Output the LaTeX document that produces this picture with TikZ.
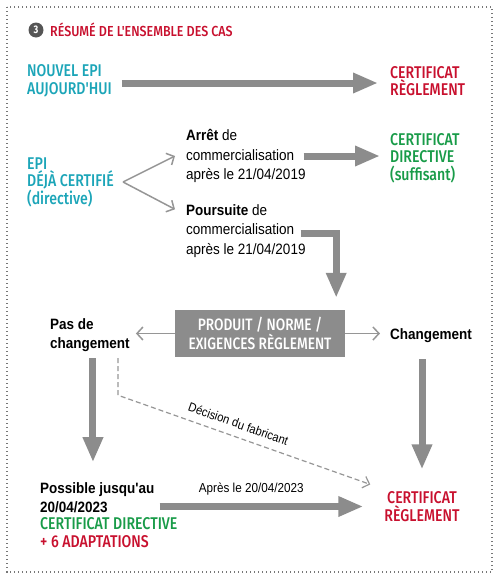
\documentclass[tikz,border=0pt]{standalone}
\usepackage{fontspec}
\setmainfont{Liberation Sans}
\newfontfamily\capsfont[FakeStretch=0.83, UprightFont={* Medium}, BoldFont={* Bold}]{Fira Sans}
\newfontfamily\titlefont[FakeStretch=0.86, UprightFont={* Medium}]{Fira Sans}
\newfontfamily\blackfont[FakeStretch=0.9]{Liberation Sans}
\usetikzlibrary{arrows.meta}

\definecolor{tealtxt}{RGB}{28,165,184}
\definecolor{redtxt}{RGB}{200,16,46}
\definecolor{greentxt}{RGB}{24,155,72}
\definecolor{arrowgray}{RGB}{140,140,140}
\definecolor{thingray}{RGB}{150,150,150}
\definecolor{numgray}{RGB}{85,85,85}

\tikzset{
  caps/.style={font=\capsfont\fontsize{17}{17.5}\selectfont, align=left, inner sep=0pt},
  tealtext/.style={caps, text=tealtxt},
  redtext/.style={caps, text=redtxt},
  greentext/.style={caps, text=greentxt},
  blk/.style={font=\blackfont\fontsize{15}{19.5}\selectfont, align=left, inner sep=0pt},
  bigarrow/.style={draw=arrowgray, line width=7pt, -{Triangle[length=25pt,width=19pt]}},
  thinarrow/.style={draw=thingray, line width=1.5pt, -{Straight Barb[length=6pt,width=13pt]}},
  dashline/.style={draw=thingray, line width=1.2pt, dash pattern=on 5pt off 3pt, -{Straight Barb[length=6pt,width=12pt]}}
}

\begin{document}
\begin{tikzpicture}[x=1pt, y=-1pt]
  \useasboundingbox (0,0) rectangle (500,584);
  \draw[numgray!80, line width=1.2pt, dash pattern=on 1.2pt off 2.8pt] (7,7) rectangle (492,572);

  % titre
  \node[circle, fill=numgray, text=white, inner sep=0pt, minimum size=15pt,
        font=\capsfont\bfseries\fontsize{11}{11}\selectfont] (num) at (36,30) {3};
  \node[text=redtxt, inner sep=0pt, font=\titlefont\fontsize{14.5}{15}\selectfont, anchor=west] (title) at (50,30) {RÉSUMÉ DE L'ENSEMBLE DES CAS};

  % nouvel EPI
  \node[tealtext, anchor=west] (nouvel) at (27,81) {NOUVEL EPI\\AUJOURD'HUI};
  \node[redtext, anchor=west] (certA) at (390,81) {CERTIFICAT\\RÈGLEMENT};
  \draw[bigarrow] ([xshift=10pt,yshift=-2pt]nouvel.east) -- ([xshift=-12pt,yshift=-2pt]certA.west);

  % EPI deja certifie
  \node[tealtext, anchor=west] (epi) at (27,182) {EPI\\DÉJÀ CERTIFIÉ\\(directive)};
  \node[blk, anchor=west] (arret) at (186,156) {\textbf{Arrêt} de\\commercialisation\\après le 21/04/2019};
  \node[greentext, anchor=west] (certB) at (390,158) {CERTIFICAT\\DIRECTIVE\\(suffisant)};
  \node[blk, anchor=west] (pours) at (186,231) {\textbf{Poursuite} de\\commercialisation\\après le 21/04/2019};
  \coordinate (fork) at ([xshift=9pt]epi.east);
  \draw[thinarrow] (fork) -- ([xshift=-11pt]arret.west);
  \draw[thinarrow] (fork) -- ([xshift=-11pt,yshift=-5pt]pours.north west);
  \draw[bigarrow] ([xshift=-2pt]arret.east) -- ([xshift=-10pt]arret.east -| certB.west);

  % produit / norme
  \node[fill=arrowgray, text=white, minimum width=170pt, minimum height=47pt, inner sep=0pt, align=center,
        font=\capsfont\fontsize{16.5}{17}\selectfont] (box) at (260,333.5) {PRODUIT / NORME /\\EXIGENCES RÈGLEMENT};
  \draw[bigarrow] ([xshift=-5pt,yshift=-2pt]pours.east) -| ([xshift=-9pt,yshift=12pt]box.north east);
  \node[blk, font=\blackfont\bfseries\fontsize{15}{19}\selectfont, anchor=west] (pas) at (50,335.5) {Pas de\\changement};
  \node[blk, font=\blackfont\bfseries\fontsize{15}{19}\selectfont, anchor=west] (chg) at (390,336) {Changement};
  \draw[thinarrow] (box.west) -- ([xshift=6pt]box.west -| pas.east);
  \draw[thinarrow] (box.east) -- ([xshift=-10pt]box.east -| chg.west);

  % bas
  \node[blk, font=\blackfont\bfseries\fontsize{15}{19}\selectfont, anchor=west] (possA) at (40,497.5) {Possible jusqu'au\\20/04/2023};
  \node[caps, anchor=west] (possB) at (40,532.5) {\textcolor{greentxt}{CERTIFICAT DIRECTIVE}\\\textcolor{redtxt}{+ 6 ADAPTATIONS}};
  \node[redtext, align=center] (certC) at (422,506.5) {CERTIFICAT\\RÈGLEMENT};
  \draw[bigarrow] ([xshift=3pt,yshift=-6pt]pas.south) -- ([xshift=3pt,yshift=20pt]pas.south |- possA.north);
  \coordinate (dstart) at ([xshift=28pt,yshift=-6pt]pas.south);
  \draw[dashline] (dstart) -- ++(0,37)
    -- node[pos=0.46, sloped, above=8pt, inner sep=0pt, font=\blackfont\fontsize{12.5}{14}\selectfont] (dlabel) {Décision du fabricant}
       ([xshift=-14pt,yshift=7pt]certC.north west);
  \draw[bigarrow] ([yshift=-16pt]chg.south -| certC.north) -- ([yshift=22pt]certC.north);
  \draw[bigarrow] ([xshift=5pt]possA.east |- certC.west)
    -- node[pos=0.45, above=8pt, inner sep=0pt, font=\blackfont\fontsize{13}{14}\selectfont] (alabel) {Après le 20/04/2023}
       ([xshift=-21pt]certC.west);
\end{tikzpicture}
\end{document}
